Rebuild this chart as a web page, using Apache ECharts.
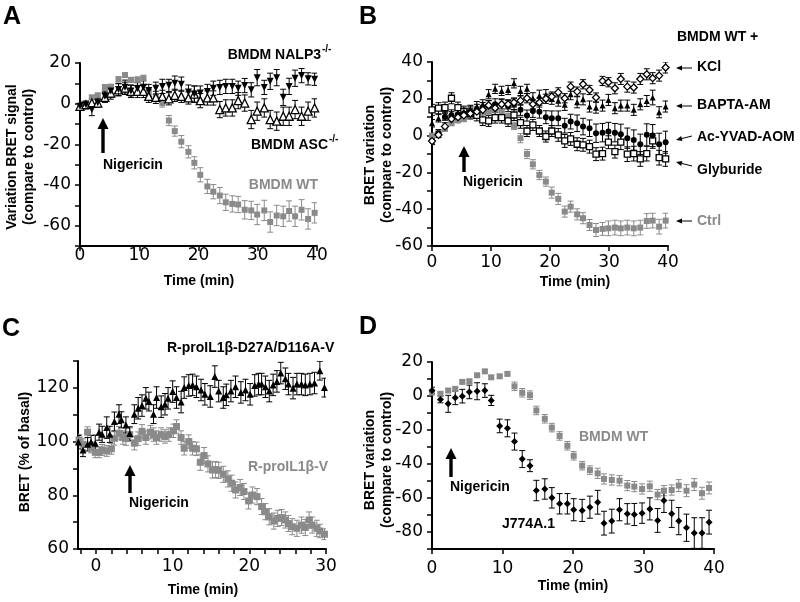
<!DOCTYPE html>
<html>
<head>
<meta charset="utf-8">
<script src="https://cdn.jsdelivr.net/npm/echarts@6/dist/echarts.min.js"></script>
<style>html,body{margin:0;padding:0;background:#fff}#c{width:800px;height:602px}</style>
</head>
<body>
<div id="c"></div>
<script>
// ---------- Panel A ----------
const tA = [0,1.0,2.0,3.0,4.2,5.2,6.5,7.6,8.6,9.7,10.7,11.6,12.8,13.9,15.0,16.0,17.1,18.3,19.3,20.3,21.5,22.5,23.6,24.6,25.7,26.7,27.8,28.9,29.9,31.1,32.1,33.2,34.3,35.3,36.3,37.4,38.5,39.6];
const aWT = [-1.6,0.3,3.1,4.1,8.1,8.3,12,14.1,11.7,11.7,12.5,5,3,0.3,-8.3,-13.5,-18.7,-23.7,-29.1,-35,-40.7,-43.3,-45.2,-48.5,-49.3,-49.6,-52.2,-52.5,-54.5,-52.5,-58.2,-55,-55.4,-52.8,-55.4,-52.2,-56.7,-53.7];
const aWTerr = [1,1,1,1,1.2,1.2,1.2,1.2,1.2,1.5,1.5,2,2,2,2.5,2.5,3,3,3,3.5,3.5,3.5,4,4,4,4,4.5,4.5,5,5,5,5,5,5,5,5,5,5];
const aNALP3 = [-1.3,-0.5,-2.9,0.5,3.7,6.2,7.0,8.1,6.2,7.5,8.1,6.5,7.6,8.5,9.0,10.1,9.6,5.7,4.7,5.2,6.0,7.6,8.0,8.5,8.5,7.6,8.9,6.8,12.8,8.0,11.0,12.8,3.1,8.5,12.5,13.8,12.2,12.0];
const aNALP3err = [2,2,3,2,2.5,3,3,3.5,3,3,3.5,3,3,3.5,3,3.5,3.5,3.5,4,3.5,3.5,3.5,3.5,3.5,3.5,3.5,3.5,3.5,4,3.5,4,4,4,4,4,3.5,3,3];
const aASC = [-1.3,-0.5,0.3,0.3,3.1,5.2,6.8,7.6,6.0,6.0,6.0,3.6,3.1,3.6,2.4,4.1,3.6,2.8,4.7,1.5,2.8,2.8,-2.9,-2.1,-2.1,1.5,0.3,-7.8,-3.7,-2.1,-7.8,-8.6,-6.2,-6.2,-2.9,-6.2,-3.7,-2.1];
const aASCerr = [2,2,2,2,2.5,3,3,3,3,3,3,3,3,3,3,3,3,3,4,3.5,3.5,3.5,4,4,4,4,4,4.5,4.5,4.5,4.5,4.5,4.5,4.5,4.5,4.5,4.5,4.5];

// ---------- Panel B ----------
const tB = [0,1.1,2.2,3.3,4.4,5.4,6.5,7.6,8.6,9.6,10.7,11.8,12.9,13.9,15.0,16.1,17.1,18.2,19.3,20.3,21.4,22.5,23.5,24.6,25.6,26.7,27.8,28.9,29.9,31.0,32.0,33.1,34.2,35.3,36.4,37.4,38.5,39.6];
const bCtrl = [0,1.5,3.6,6.7,8.2,8.9,11,12,12.5,13,14,13,10,5.3,-1.4,-10,-15.6,-21.4,-25,-31,-34.4,-41.3,-38.6,-42.8,-44.9,-48.6,-51.3,-50.7,-50.4,-50,-50.4,-50,-50.4,-50,-46.4,-46.2,-49.5,-46.2];
const bCtrlErr = [1,1,1,1,1,1,1,1,1,1,1.5,1.5,2,2,2.5,2.5,2.5,2.5,2.5,3,3,3,3,3,3,3,3.5,3.5,4,4,4,4,4,4,4,4,4,4];
const bKCl = [-3,0.4,5,9,10,11,12,13,14,16.5,15,17,17,18,19,20.3,17,18,20,21.2,23.5,20.3,26.6,23.9,27.9,24.8,20.7,29.7,29,25.7,30.8,26.6,26.1,30.8,33.3,31.2,32.6,37];
const bKClErr = [1.5,1.5,2,2,2,2,2.5,2.5,2.5,2.5,2.5,2.5,2.5,2.5,2.5,2.5,2.5,2.5,2.5,2.5,2.5,2.5,2.5,2.5,2.5,2.5,2.5,2.5,2.5,3,3,3,3,3,3,3,3,3];
const bBAPTA = [6.7,9.4,11,12,12,13,14,16,17,22.5,25.4,24.3,24.8,28.4,24.3,25.4,20.3,21.7,22,20,19,16.7,22.5,18.1,19.7,15.8,15.2,16.3,19.4,14.9,16.3,16.3,14,17,18.8,20.7,12.7,15.8];
const bBAPTAErr = [2,2,2,2,2,2,2.5,2.5,2.5,2.5,2.5,2.5,2.5,2.5,2.5,2.5,3,3,3,3,3,3,3,3,3,3,3,3,3,3,3,3,3,3,3,4,3,3];
const bYVAD = [-2.9,1.3,10.3,11,11.5,12,13,14,15,16,17,17,16,17,14,10.9,13.4,13,10,9.4,9.4,5.4,7.6,6.7,4.9,4,1.3,1.6,2.2,1.6,0.7,-1.4,-2.4,-4.7,0.4,0,-4.7,-3.6];
const bYVADErr = [2,2,2,2,2.5,2.5,3,3,3,3,3,3,3,3,3,3,3.5,3.5,3.5,4,4,4,4,4.5,4.5,4.5,5,5,5,5,5.5,5.5,5.5,5.5,6,6,6,6];
const bGlyb = [14,14.9,15.2,20.3,15.2,13,12,11,8.5,8,9.8,9.8,8,11.2,7,2.5,5.8,2.5,-0.5,2.5,0.4,-2.9,-1.8,-4.7,-5,-6,-10.1,-9.8,-3.6,-8.7,-3.6,-10.1,-9.8,-12.7,-9.8,-2.9,-12,-12.7];
const bGlybErr = [3,3,3,3,3,3,3,3,3,3,3,3,3,3,3,3,3,3,3,3,3.5,3.5,3.5,3.5,3.5,3.5,3.5,3.5,3.5,3.5,4,4,4,4,4,4,4,4];

// ---------- Panel C ----------
const tCk = [-2.3,-1.7,-1.1,-0.65,-0.1,0.4,0.8,1.4,1.8,2.4,3.0,3.3,3.9,4.4,5.0,5.5,6.0,6.5,6.9,7.5,7.9,8.5,9.0,9.4,10.0,10.5,11.1,11.5,12.1,12.6,13.1,13.7,14.2,14.9,15.5,16.0,16.6,17.0,17.6,18.2,18.9,19.5,20.1,20.7,21.2,21.6,22.1,22.6,23.1,23.6,24.1,24.7,25.1,25.7,26.2,26.8,27.3,27.9,28.5,29.2,29.8];
const cMut = [99.8,96.9,99,99.8,99.4,103.5,102.7,105.2,102.7,107.5,110.2,108.1,106.2,103,110.2,112.4,113.4,116.1,114.9,110.2,116.4,113,113.9,116.1,118.6,116.4,114.7,120.1,120.9,121.1,120.4,119.2,117.6,116.8,124.2,118.8,116.4,117.4,118.8,120.4,118.3,119.2,117.6,120.9,121.4,121.4,120.4,118.8,121.1,122.4,125.5,123.4,121.4,119.9,121.4,121.4,121.1,121.4,121.8,126.4,120.1];
const cMutErr = [2.5,2.5,2.5,2.5,3,3,3,4,3,3.5,3.5,3,3,2.5,3.5,4,4,4,3.5,3.5,4,4,4,4,4,4,4,4,4,4,4,4,4,4,4,4,4,4,4,4,4,4,4,4,4,4,4,4,4,4,4,4,4,4,4,4,4,4,4,3.5,3.5];
const tCg = [-2.2,-1.7,-1.1,-0.65,-0.1,0.4,0.8,1.4,2.0,2.4,3.0,3.5,3.9,4.4,5.0,5.5,6.0,6.5,7.1,7.5,7.9,8.5,9.0,9.5,10.1,10.5,11.1,11.5,12.1,12.6,13.1,13.6,14.1,14.6,15.2,15.6,16.0,16.6,17.2,17.7,18.2,18.8,19.3,19.9,20.4,21.0,21.6,22.1,22.6,23.2,23.7,24.2,24.7,25.1,25.6,26.2,26.8,27.3,27.8,28.2,28.8,29.2,29.8];
const cWT = [100.6,99,103.5,97.8,96,96,96.9,96.5,97.3,101.2,103.1,101.5,101.1,102.6,99.4,101.1,103.8,101.5,103.5,102.6,101.5,102.6,101.9,102.6,104,105.6,101.5,97.5,100,97.5,97.3,92.3,94.8,91.7,89.4,89.6,89.3,87.8,86.1,84.5,82,82.9,81.4,77.9,80.1,79.5,75.8,73.9,72,70.4,71.4,71.7,70.8,69.5,68.3,67.7,68.9,68,70.8,68.9,67.7,66.7,65.5];
const cWTErr = [2,2,2,2,2,2,2,2,2,2.5,2.5,2.5,2.5,2.5,2.5,2.5,2.5,2.5,2.5,2.5,2.5,2.5,2.5,2.5,2.5,2.5,2.5,2.5,2.5,2.5,2.5,3,3,3,3,3,3,3,3,3,3,3,3,3,3,3,3,3,3,3,3,3,3,3,3,3,3,3,3,3,3,2.5,2];

// ---------- Panel D ----------
const tD = [0,1.2,2.3,3.3,4.3,5.3,6.4,7.5,8.4,9.6,10.7,11.7,12.8,13.9,14.8,16.0,17.0,18.1,19.2,20.1,21.3,22.4,23.5,24.4,25.5,26.6,27.7,28.7,29.8,30.9,32.0,32.9,34.0,35.0,36.1,37.2,38.3,39.3];
const dWT = [2,1.3,3.2,4.2,8.3,8.7,12.2,14.5,11,11.6,13,5.7,1.9,0.5,-8.5,-13.4,-18.6,-23.5,-29.3,-35.2,-41,-43.6,-45.5,-48.8,-49.4,-49.8,-52.7,-53.3,-54.7,-53.1,-58,-55.7,-55.3,-52.7,-55.7,-52.1,-57.2,-54.1];
const dWTErr = [0.8,1,1,1,1,1,1,1,1,1,1,2.5,2.5,2.5,2.5,2.5,2.5,2.5,2.5,2.5,2.5,2.5,3,3,3,3,3,3,3,3,3,3,3,3.5,3.5,3.5,3.5,3.5];
const dJ774 = [3.2,-2,-4.6,-1.1,-0.1,2.4,2.8,3.2,-2.6,-17.6,-19,-26.8,-37.1,-41,-55.6,-54.7,-59.9,-63.4,-63.4,-66.9,-67.3,-65.4,-62.5,-74.8,-73.6,-66.9,-69.3,-69.7,-68.9,-66.4,-73.2,-61.5,-69.3,-73.6,-77.5,-80.6,-80.6,-74.2];
const dJ774Err = [2,2,5,4,4,4,5,4,3,4,5,5,5,3.5,6,6,6,6,6,6.5,6.5,6.5,7,7,7,6.5,6,6.5,6,6.5,7,7,8,8,8,9,9,7];

// ---------- Tick labels ----------
const xTicks40 = [0,10,20,30,40];
const cXTickValues = [-2,0,2,4,6,8,10,12,14,16,18,20,22,24,26,28,30];
const cXLabelValues = [0,10,20,30];

const GRAY = '#8a8a8a';
const TXT = '"Liberation Sans", Arial, sans-serif';
const NUM = '"DejaVu Sans", sans-serif';

function errBar(color){
  return function(params, api){
    const x = api.value(0), y = api.value(1), e = api.value(2);
    const p1 = api.coord([x, y + e]), p2 = api.coord([x, y - e]);
    const w = 3;
    const st = () => ({stroke: color, lineWidth: 1});
    return {type:'group', children:[
      {type:'line', shape:{x1:p1[0], y1:p1[1], x2:p2[0], y2:p2[1]}, style:st()},
      {type:'line', shape:{x1:p1[0]-w, y1:p1[1], x2:p1[0]+w, y2:p1[1]}, style:st()},
      {type:'line', shape:{x1:p2[0]-w, y1:p2[1], x2:p2[0]+w, y2:p2[1]}, style:st()}
    ]};
  };
}

const series = [];
function addSet(idx, t, v, e, color, sym, size, item, rot){
  series.push({type:'custom', xAxisIndex:idx, yAxisIndex:idx, silent:true, clip:true,
    data: t.map((x,i)=>[x, v[i], e[i]]), renderItem: errBar(color), z:2});
  series.push({type:'scatter', xAxisIndex:idx, yAxisIndex:idx, silent:true, clip:true,
    data: t.map((x,i)=>[x, v[i]]), symbol:sym, symbolSize:size, symbolRotate:rot||0,
    itemStyle:item, z:3});
}
const filledGray = {color:GRAY, borderWidth:0, opacity:1};
const filledBlack = {color:'#000', borderWidth:0, opacity:1};
const openBlack = {color:'#fff', borderColor:'#000', borderWidth:1.3, opacity:1};

// A
addSet(0, tA, aWT, aWTerr, GRAY, 'rect', 6, filledGray);
addSet(0, tA, aASC, aASCerr, '#000', 'triangle', 8, openBlack);
addSet(0, tA, aNALP3, aNALP3err, '#000', 'triangle', 7, filledBlack, 180);
// B
addSet(1, tB, bCtrl, bCtrlErr, GRAY, 'rect', 6, filledGray);
addSet(1, tB, bGlyb, bGlybErr, '#000', 'rect', 6, openBlack);
addSet(1, tB, bYVAD, bYVADErr, '#000', 'circle', 6, filledBlack);
addSet(1, tB, bBAPTA, bBAPTAErr, '#000', 'triangle', 6, filledBlack);
addSet(1, tB, bKCl, bKClErr, '#000', 'diamond', 7, openBlack);
// C
addSet(2, tCg, cWT, cWTErr, GRAY, 'rect', 7, filledGray);
addSet(2, tCk, cMut, cMutErr, '#000', 'triangle', 7, filledBlack);
// D
addSet(3, tD, dWT, dWTErr, GRAY, 'rect', 6, filledGray);
addSet(3, tD, dJ774, dJ774Err, '#000', 'diamond', 7, filledBlack);

function xAx(idx, min, max, extra, margin){
  return Object.assign({
    gridIndex: idx, type:'value', min:min, max:max,
    axisLine:{show:true, onZero:false, lineStyle:{color:'#000', width:2}},
    axisTick:{show:true, length:5, lineStyle:{color:'#000', width:1.5}},
    axisLabel:{color:'#000', fontFamily:NUM, fontSize:17, margin:margin},
    splitLine:{show:false}
  }, extra);
}
function yAx(idx, min, max){
  return {
    gridIndex: idx, type:'value', min:min, max:max, interval:10,
    axisLine:{show:true, onZero:false, lineStyle:{color:'#000', width:2}},
    axisTick:{show:true, length:5, lineStyle:{color:'#000', width:1.5}},
    axisLabel:{color:'#000', fontFamily:NUM, fontSize:17, margin:9,
      formatter: v => (Math.round(v) % 20 === 0 ? String(v) : '')},
    splitLine:{show:false}
  };
}

const xAxis = [
  xAx(0, 0, 40, {interval:10}, 1),
  xAx(1, 0, 40, {interval:10}, 8),
  xAx(2, -2.35, 30, {}, 9),
  xAx(3, 0, 40, {interval:10}, 11)
];
xAxis[2].axisTick.customValues = cXTickValues;
xAxis[2].axisLabel.customValues = cXLabelValues;
const yAxis = [yAx(0,-70,20), yAx(1,-60,40), yAx(2,60,130), yAx(3,-90,20)];

function txt(x, y, text, opt){
  opt = opt || {};
  return {type:'text', x:x, y:y, rotation: opt.rot || 0, silent:true,
    style:{text:text, x:0, y:0, fill: opt.color || '#000',
      font: opt.font || ('bold 14px ' + TXT),
      align: opt.align || 'center', verticalAlign: 'middle'}};
}
function bigArrow(x, tip, bottom){
  return [
    {type:'rect', silent:true, shape:{x:x-1.7, y:tip+9, width:3.4, height:bottom-tip-9}, style:{fill:'#000'}},
    {type:'polygon', silent:true, shape:{points:[[x-5.5,tip+11],[x,tip],[x+5.5,tip+11]]}, style:{fill:'#000'}}
  ];
}
function smallArrow(x1, y1, x2, y2){
  const ang = Math.atan2(y2-y1, x2-x1);
  const L = 6, W = 2.5;
  const bx = x2 - L*Math.cos(ang), by = y2 - L*Math.sin(ang);
  const nx = -Math.sin(ang), ny = Math.cos(ang);
  return [
    {type:'line', silent:true, shape:{x1:x1,y1:y1,x2:bx,y2:by}, style:{stroke:'#000', lineWidth:1}},
    {type:'polygon', silent:true, shape:{points:[[x2,y2],[bx+nx*W,by+ny*W],[bx-nx*W,by-ny*W]]}, style:{fill:'#000'}}
  ];
}
const LET = 'bold 25px ' + TXT;
const SUP = 'bold 10px ' + TXT;
const graphic = [
  // panel letters
  txt(12,17,'A',{font:LET}), txt(368,17,'B',{font:LET}),
  txt(11,329,'C',{font:LET}), txt(368,327,'D',{font:LET}),
  // A
  txt(12,157,'Variation BRET signal',{rot:Math.PI/2}),
  txt(29,157,'(compare to control)',{rot:Math.PI/2}),
  txt(199,281,'Time (min)'),
  txt(321,55,'BMDM NALP3',{align:'right'}), txt(322,49,'-/-',{align:'left', font:SUP}),
  txt(328,145,'BMDM ASC',{align:'right'}), txt(329,139,'-/-',{align:'left', font:SUP}),
  txt(318,185,'BMDM WT',{align:'right', color:GRAY}),
  txt(103,165,'Nigericin',{align:'left'}),
  ...bigArrow(103,118,153),
  // B
  txt(370,155,'BRET variation',{rot:Math.PI/2}),
  txt(387,155,'(compare to control)',{rot:Math.PI/2}),
  txt(575,282,'Time (min)'),
  txt(677,37,'BMDM WT +',{align:'left'}),
  txt(697,67,'KCl',{align:'left'}),
  txt(697,105,'BAPTA-AM',{align:'left'}),
  txt(697,137,'Ac-YVAD-AOM',{align:'left'}),
  txt(697,170,'Glyburide',{align:'left'}),
  txt(697,221,'Ctrl',{align:'left', color:GRAY}),
  ...smallArrow(692,68,676,68),
  ...smallArrow(692,106,676,106),
  ...smallArrow(692,136,676,140),
  ...smallArrow(692,166,676,162),
  ...smallArrow(692,221,676,221),
  txt(463,182,'Nigericin',{align:'left'}),
  ...bigArrow(464,146,172),
  // C
  txt(25,452,'BRET (% of basal)',{rot:Math.PI/2}),
  txt(203,590,'Time (min)'),
  txt(167,348,'R-proIL1β-D27A/D116A-V',{align:'left'}),
  txt(248,467,'R-proIL1β-V',{align:'left', color:GRAY}),
  txt(129,503,'Nigericin',{align:'left'}),
  ...bigArrow(130,465,493),
  // D
  txt(370,460,'BRET variation',{rot:Math.PI/2}),
  txt(387,460,'(compare to control)',{rot:Math.PI/2}),
  txt(573,586,'Time (min)'),
  txt(579,437,'BMDM WT',{align:'left', color:GRAY}),
  txt(502,524,'J774A.1',{align:'left'}),
  txt(450,487,'Nigericin',{align:'left'}),
  ...bigArrow(451,448,477)
];

const chart = echarts.init(document.getElementById('c'), null, {renderer:'canvas'});
chart.setOption({
  animation:false,
  backgroundColor:'#fff',
  grid:[
    {left:80, top:63, width:237, height:183},
    {left:432, top:62, width:236, height:184},
    {left:78, top:361, width:248, height:188},
    {left:432, top:362, width:282, height:187}
  ],
  xAxis: xAxis,
  yAxis: yAxis,
  series: series,
  graphic: graphic
});
</script>
</body>
</html>
